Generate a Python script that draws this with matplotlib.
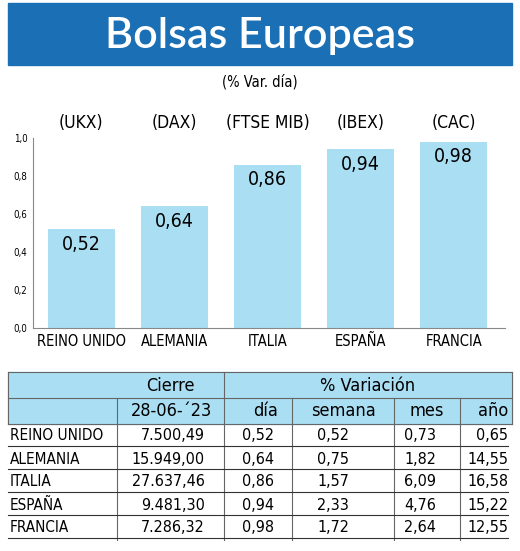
import matplotlib
matplotlib.use("Agg")
import matplotlib.pyplot as plt
from matplotlib.patches import Rectangle

plt.rcParams['font.family'] = ['DejaVu Sans']
plt.rcParams['font.stretch'] = 'condensed'

countries = ["REINO UNIDO", "ALEMANIA", "ITALIA", "ESPAÑA", "FRANCIA"]
indices = ["(UKX)", "(DAX)", "(FTSE MIB)", "(IBEX)", "(CAC)"]
dia = [0.52, 0.64, 0.86, 0.94, 0.98]
cierre = ["7.500,49", "15.949,00", "27.637,46", "9.481,30", "7.286,32"]
dia_txt = ["0,52", "0,64", "0,86", "0,94", "0,98"]
semana = ["0,52", "0,75", "1,57", "2,33", "1,72"]
mes = ["0,73", "1,82", "6,09", "4,76", "2,64"]
anio = ["0,65", "14,55", "16,58", "15,22", "12,55"]
yticks = [0.0, 0.2, 0.4, 0.6, 0.8, 1.0]

W, H = 520, 551
fig = plt.figure(figsize=(W/100, H/100), dpi=100)

def fx(x): return x / W
def fy(y): return 1 - y / H

def rect(x0, y0, x1, y1, **kw):
    fig.patches.append(Rectangle((fx(x0), fy(y1)), fx(x1) - fx(x0), fy(y0) - fy(y1),
                                 transform=fig.transFigure, **kw))

def line(x0, y0, x1, y1, **kw):
    fig.add_artist(plt.Line2D([fx(x0), fx(x1)], [fy(y0), fy(y1)], transform=fig.transFigure, **kw))

def text(x, y, s, **kw):
    fig.text(fx(x), fy(y), s, **kw)

# Title banner
rect(8, 3, 512, 65, color="#1a6fb5")
text(260, 36, "Bolsas Europeas", color="white", fontsize=31, ha="center", va="center",
     family=['Lato', 'DejaVu Sans'], weight='semibold')
text(260, 82, "(% Var. día)", fontsize=10.5, ha="center", va="center")

# Chart
ax = fig.add_axes([fx(33), fy(328), fx(505) - fx(33), fy(138) - fy(328)])
x = range(len(countries))
ax.bar(x, dia, width=0.72, color="#a9def3")
ax.set_ylim(0, 1.0)
ax.set_xlim(-0.52, 4.55)
ax.set_yticks(yticks)
ax.set_yticklabels([f"{t:.1f}".replace(".", ",") for t in yticks], fontsize=7)
ax.set_xticks(list(x))
ax.set_xticklabels(countries, fontsize=10.5)
ax.tick_params(axis="x", length=0, pad=4)
ax.tick_params(axis="y", length=0, pad=4)
for s in ["top", "right"]:
    ax.spines[s].set_visible(False)
ax.spines["left"].set_color("#888888")
ax.spines["bottom"].set_color("#888888")
for i, v in enumerate(dia):
    ax.text(i, min(v - 0.08, 0.9), dia_txt[i], ha="center", va="center", fontsize=14)
    ax.text(i, 1.08, indices[i], ha="center", va="center", fontsize=12.5, clip_on=False)

# Table
rect(8, 372, 512, 424, color="#a9def3")
for yy in [372, 398, 424]:
    line(8, yy, 512, yy, color="#666", lw=0.8)
line(8, 372, 8, 424, color="#666", lw=0.8)
line(512, 372, 512, 424, color="#666", lw=0.8)
line(224, 372, 224, 540, color="#666", lw=0.8)
for c in [117, 292, 394, 460]:
    line(c, 398, c, 540, color="#666", lw=0.8)
text(170, 386, "Cierre", fontsize=13, ha="center", va="center")
text(368, 386, "% Variación", fontsize=13, ha="center", va="center")
text(212, 411, "28-06-´23", fontsize=13, ha="right", va="center")
text(278, 411, "día", fontsize=13, ha="right", va="center")
text(343, 411, "semana", fontsize=13, ha="center", va="center")
text(427, 411, "mes", fontsize=13, ha="center", va="center")
text(508, 411, "año", fontsize=13, ha="right", va="center")
for r in range(5):
    y = 436 + r * 23
    line(8, y + 10, 508, y + 10, color="#333", lw=0.8)
    text(10, y, countries[r], fontsize=11, ha="left", va="center")
    text(205, y, cierre[r], fontsize=11.5, ha="right", va="center")
    text(274, y, dia_txt[r], fontsize=11.5, ha="right", va="center")
    text(349, y, semana[r], fontsize=11.5, ha="right", va="center")
    text(436, y, mes[r], fontsize=11.5, ha="right", va="center")
    text(508, y, anio[r], fontsize=11.5, ha="right", va="center")

fig.savefig("out.png", dpi=100)
